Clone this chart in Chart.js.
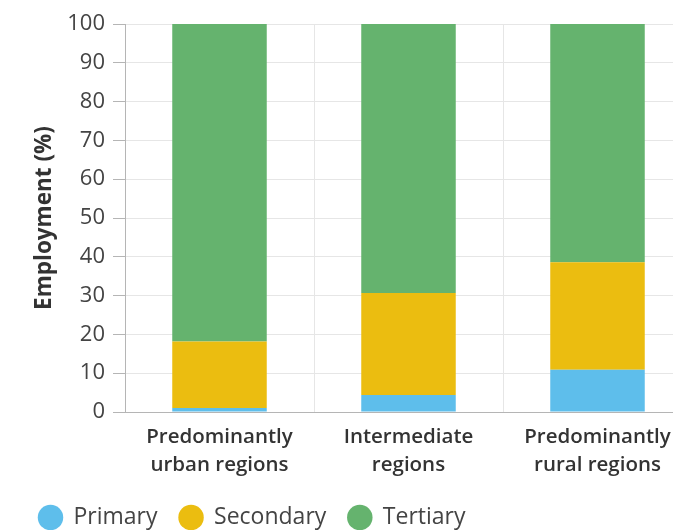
<!DOCTYPE html>
<html>
<head>
<meta charset="utf-8">
<script src="https://cdn.jsdelivr.net/npm/chart.js@4/dist/chart.umd.min.js"></script>
<style>
  html, body { margin: 0; padding: 0; background: #fff; overflow: hidden; }
  #wrap { width: 700px; height: 530px; position: relative; }
</style>
</head>
<body>
<div id="wrap"><canvas id="c" width="700" height="530"></canvas></div>
<script>
// Employment share by sector and region type
const regions = [
  ['Predominantly', 'urban regions'],
  ['Intermediate', 'regions'],
  ['Predominantly', 'rural regions']
];
const primary   = [1.0, 4.4, 10.9];
const secondary = [17.2, 26.3, 27.7];
const tertiary  = [81.8, 69.3, 61.4];
const yTicks = [0, 10, 20, 30, 40, 50, 60, 70, 80, 90, 100];

const FONT = '"Open Sans", "Noto Sans", sans-serif';
const PAD_LEFT = 17;

new Chart(document.getElementById('c'), {
  type: 'bar',
  data: {
    labels: regions,
    datasets: [
      { label: 'Primary',   data: primary,   backgroundColor: '#5ebeeb' },
      { label: 'Secondary', data: secondary, backgroundColor: '#ebbd10' },
      { label: 'Tertiary',  data: tertiary,  backgroundColor: '#65b36e' }
    ]
  },
  options: {
    responsive: false,
    animation: false,
    devicePixelRatio: 1,
    categoryPercentage: 1.0,
    barPercentage: 0.5,
    layout: { padding: { top: 24, left: PAD_LEFT, right: 8, bottom: -9 } },
    plugins: {
      tooltip: { enabled: false },
      legend: {
        position: 'bottom',
        align: 'start',
        labels: {
          usePointStyle: true,
          pointStyle: 'circle',
          boxHeight: 18,
          padding: 22,
          color: '#444',
          font: { family: FONT, size: 23 }
        }
      }
    },
    scales: {
      x: {
        stacked: true,
        afterFit: s => { s.height = 72; },
        grid: { color: '#e6e6e6', drawTicks: false, offset: true },
        border: { color: '#b5b5b5' },
        ticks: {
          color: '#333',
          padding: 11,
          maxRotation: 0,
          font: { family: FONT, size: 20.5, weight: '600', lineHeight: 1.37 }
        }
      },
      y: {
        stacked: true,
        min: 0,
        max: 100,
        afterBuildTicks: s => { s.ticks = yTicks.map(v => ({ value: v })); },
        afterFit: s => { s.width = 125 - PAD_LEFT; },
        grid: { color: '#e6e6e6', tickColor: '#b5b5b5', tickLength: 12 },
        border: { color: '#b5b5b5' },
        ticks: {
          color: '#444',
          padding: 8,
          font: { family: FONT, size: 22 }
        },
        title: {
          display: true,
          text: 'Employment (%)',
          color: '#333',
          padding: { top: 14, bottom: 0 },
          font: { family: FONT, size: 22.5, weight: 'bold' }
        }
      }
    }
  }
});
</script>
</body>
</html>
